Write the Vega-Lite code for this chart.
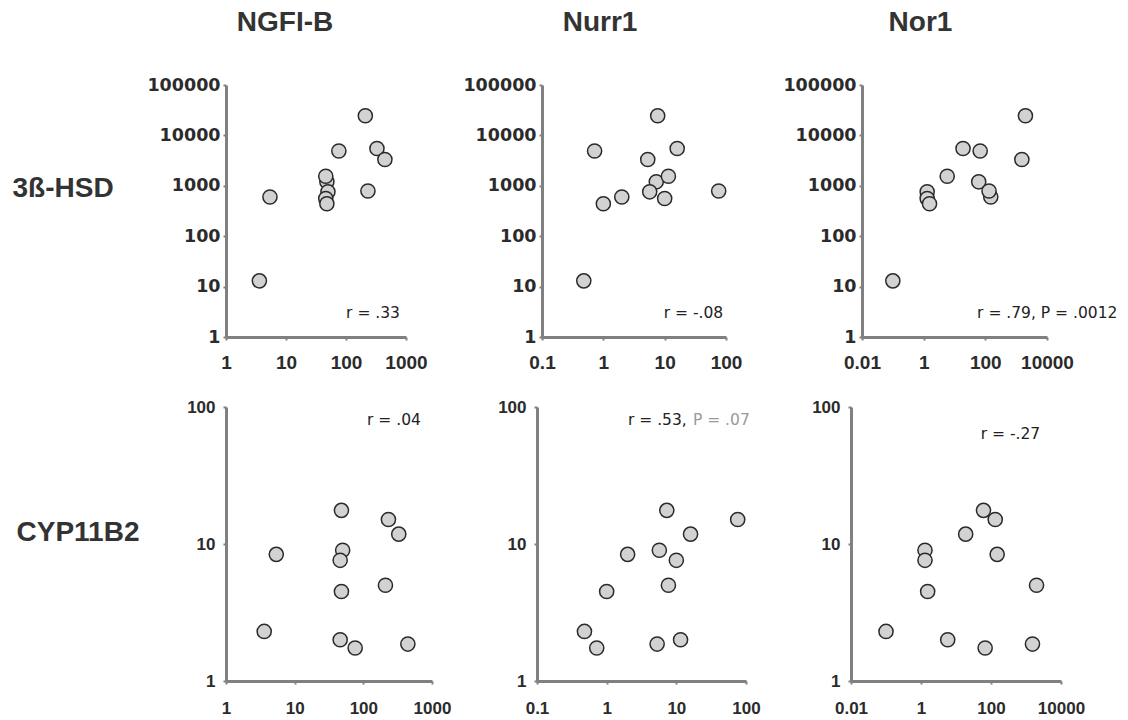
{
  "$schema": "https://vega.github.io/schema/vega-lite/v6.json",
  "autosize": "none",
  "padding": {"left": 226, "top": 85, "right": 902, "bottom": 635},
  "background": "white",
  "datasets": {
    "s": [
      {"ngfi": 3.6, "nurr": 0.48, "nor": 0.1, "hsd": 13, "cyp": 2.3},
      {"ngfi": 5.4, "nurr": 2.0, "nor": 150, "hsd": 600, "cyp": 8.4},
      {"ngfi": 48, "nurr": 7.3, "nor": 61, "hsd": 1200, "cyp": 17.6},
      {"ngfi": 50, "nurr": 5.7, "nor": 1.3, "hsd": 760, "cyp": 9.0},
      {"ngfi": 46, "nurr": 10, "nor": 1.3, "hsd": 560, "cyp": 7.6},
      {"ngfi": 48, "nurr": 1.0, "nor": 1.55, "hsd": 440, "cyp": 4.5},
      {"ngfi": 46, "nurr": 11.5, "nor": 5.8, "hsd": 1550, "cyp": 2.0},
      {"ngfi": 76, "nurr": 0.72, "nor": 68, "hsd": 4900, "cyp": 1.74},
      {"ngfi": 232, "nurr": 76, "nor": 132, "hsd": 790, "cyp": 15.1},
      {"ngfi": 328, "nurr": 16, "nor": 18.9, "hsd": 5500, "cyp": 11.8},
      {"ngfi": 210, "nurr": 7.7, "nor": 2000, "hsd": 24500, "cyp": 5.0},
      {"ngfi": 445, "nurr": 5.3, "nor": 1530, "hsd": 3330, "cyp": 1.86}
    ]
  },
  "config": {
    "view": {"stroke": null},
    "axis": {
      "grid": false,
      "labelFont": "Liberation Sans",
      "labelFontSize": 17,
      "labelFontWeight": "bold",
      "labelColor": "#2b2b2b",
      "domainColor": "#808080",
      "domainWidth": 3,
      "tickColor": "#808080",
      "tickSize": 3,
      "tickWidth": 2,
      "labelFlush": false,
      "labelOverlap": false,
      "titleFont": "Liberation Sans",
      "titleFontSize": 28,
      "titleFontWeight": "bold",
      "titleColor": "#333333",
      "titleAngle": 0,
      "titleAlign": "left",
      "titleBaseline": "middle"
    },
    "title": {
      "font": "Liberation Sans",
      "fontSize": 28,
      "fontWeight": "bold",
      "color": "#333333",
      "frame": "group",
      "anchor": "middle",
      "offset": 39
    },
    "circle": {"size": 200, "fill": "#d2d2d2", "stroke": "#2a2a2a", "strokeWidth": 1.5, "opacity": 1},
    "text": {"font": "DejaVu Sans", "fontSize": 15.5, "color": "#222222", "baseline": "middle"}
  },
  "spacing": 26,
  "vconcat": [
    {
      "spacing": 136,
      "bounds": "flush",
      "hconcat": [
        {
          "width": 180, "height": 252,
          "title": {"text": "NGFI-B", "dx": -31},
          "layer": [
            {
              "data": {"name": "s"},
              "mark": {"type": "circle"},
              "encoding": {
                "x": {"field": "ngfi", "type": "quantitative", "scale": {"type": "log", "domain": [1, 1000], "nice": false}, "axis": {"values": [1, 10, 100, 1000], "format": "~g", "labelFontSize": 19, "labelPadding": 13, "title": null}},
                "y": {"field": "hsd", "type": "quantitative", "scale": {"type": "log", "domain": [1, 100000], "nice": false}, "axis": {"values": [1, 10, 100, 1000, 10000, 100000], "format": "~g", "labelFont": "DejaVu Sans", "labelFontSize": 17.5, "labelPadding": 3, "title": "3ß-HSD", "titleX": -214, "titleY": 103}}
              }
            },
            {
              "data": {"values": [{"t": "r =  .33"}]},
              "mark": {"type": "text", "align": "right"},
              "encoding": {
                "x": {"datum": 794, "type": "quantitative"},
                "y": {"datum": 3, "type": "quantitative"},
                "text": {"field": "t"}
              }
            }
          ]
        },
        {
          "width": 184, "height": 252,
          "title": {"text": "Nurr1", "dx": -34},
          "layer": [
            {
              "data": {"name": "s"},
              "mark": {"type": "circle"},
              "encoding": {
                "x": {"field": "nurr", "type": "quantitative", "scale": {"type": "log", "domain": [0.1, 100], "nice": false}, "axis": {"values": [0.1, 1, 10, 100], "format": "~g", "labelFontSize": 19, "labelPadding": 13, "title": null}},
                "y": {"field": "hsd", "type": "quantitative", "scale": {"type": "log", "domain": [1, 100000], "nice": false}, "axis": {"values": [1, 10, 100, 1000, 10000, 100000], "format": "~g", "labelFont": "DejaVu Sans", "labelFontSize": 17.5, "labelPadding": 3, "title": null}}
              }
            },
            {
              "data": {"values": [{"t": "r = -.08"}]},
              "mark": {"type": "text", "align": "right"},
              "encoding": {
                "x": {"datum": 90, "type": "quantitative"},
                "y": {"datum": 3, "type": "quantitative"},
                "text": {"field": "t"}
              }
            }
          ]
        },
        {
          "width": 185, "height": 252,
          "title": {"text": "Nor1", "dx": -34},
          "layer": [
            {
              "data": {"name": "s"},
              "mark": {"type": "circle"},
              "encoding": {
                "x": {"field": "nor", "type": "quantitative", "scale": {"type": "log", "domain": [0.01, 10000], "nice": false}, "axis": {"values": [0.01, 1, 100, 10000], "format": "~g", "labelFontSize": 19, "labelPadding": 13, "title": null}},
                "y": {"field": "hsd", "type": "quantitative", "scale": {"type": "log", "domain": [1, 100000], "nice": false}, "axis": {"values": [1, 10, 100, 1000, 10000, 100000], "format": "~g", "labelFont": "DejaVu Sans", "labelFontSize": 17.5, "labelPadding": 3, "title": null}}
              }
            },
            {
              "data": {"values": [{"t": "r = .79, P = .0012"}]},
              "mark": {"type": "text", "align": "left"},
              "encoding": {
                "x": {"datum": 54, "type": "quantitative"},
                "y": {"datum": 3, "type": "quantitative"},
                "text": {"field": "t"}
              }
            }
          ]
        }
      ]
    },
    {
      "spacing": 105,
      "bounds": "flush",
      "hconcat": [
        {
          "width": 206, "height": 274,
          "layer": [
            {
              "data": {"name": "s"},
              "mark": {"type": "circle"},
              "encoding": {
                "x": {"field": "ngfi", "type": "quantitative", "scale": {"type": "log", "domain": [1, 1000], "nice": false}, "axis": {"values": [1, 10, 100, 1000], "format": "~g", "labelPadding": 16, "title": null}},
                "y": {"field": "cyp", "type": "quantitative", "scale": {"type": "log", "domain": [1, 100], "nice": false}, "axis": {"values": [1, 10, 100], "format": "~g", "labelPadding": 8, "title": "CYP11B2", "titleX": -210, "titleY": 125}}
              }
            },
            {
              "data": {"values": [{"t": "r =  .04"}]},
              "mark": {"type": "text", "align": "right"},
              "encoding": {
                "x": {"datum": 689, "type": "quantitative"},
                "y": {"datum": 80, "type": "quantitative"},
                "text": {"field": "t"}
              }
            }
          ]
        },
        {
          "width": 209, "height": 274,
          "layer": [
            {
              "data": {"name": "s"},
              "mark": {"type": "circle"},
              "encoding": {
                "x": {"field": "nurr", "type": "quantitative", "scale": {"type": "log", "domain": [0.1, 100], "nice": false}, "axis": {"values": [0.1, 1, 10, 100], "format": "~g", "labelPadding": 16, "title": null}},
                "y": {"field": "cyp", "type": "quantitative", "scale": {"type": "log", "domain": [1, 100], "nice": false}, "axis": {"values": [1, 10, 100], "format": "~g", "labelPadding": 8, "title": null}}
              }
            },
            {
              "data": {"values": [{"t": "r = .53,"}]},
              "mark": {"type": "text", "align": "left"},
              "encoding": {
                "x": {"datum": 2.02, "type": "quantitative"},
                "y": {"datum": 80, "type": "quantitative"},
                "text": {"field": "t"}
              }
            },
            {
              "data": {"values": [{"t": "P = .07"}]},
              "mark": {"type": "text", "align": "left", "color": "#9a9a9a"},
              "encoding": {
                "x": {"datum": 17.3, "type": "quantitative"},
                "y": {"datum": 80, "type": "quantitative"},
                "text": {"field": "t"}
              }
            }
          ]
        },
        {
          "width": 210, "height": 274,
          "layer": [
            {
              "data": {"name": "s"},
              "mark": {"type": "circle"},
              "encoding": {
                "x": {"field": "nor", "type": "quantitative", "scale": {"type": "log", "domain": [0.01, 10000], "nice": false}, "axis": {"values": [0.01, 1, 100, 10000], "format": "~g", "labelPadding": 16, "title": null}},
                "y": {"field": "cyp", "type": "quantitative", "scale": {"type": "log", "domain": [1, 100], "nice": false}, "axis": {"values": [1, 10, 100], "format": "~g", "labelPadding": 8, "title": null}}
              }
            },
            {
              "data": {"values": [{"t": "r = -.27"}]},
              "mark": {"type": "text", "align": "left"},
              "encoding": {
                "x": {"datum": 51, "type": "quantitative"},
                "y": {"datum": 63, "type": "quantitative"},
                "text": {"field": "t"}
              }
            }
          ]
        }
      ]
    }
  ]
}
